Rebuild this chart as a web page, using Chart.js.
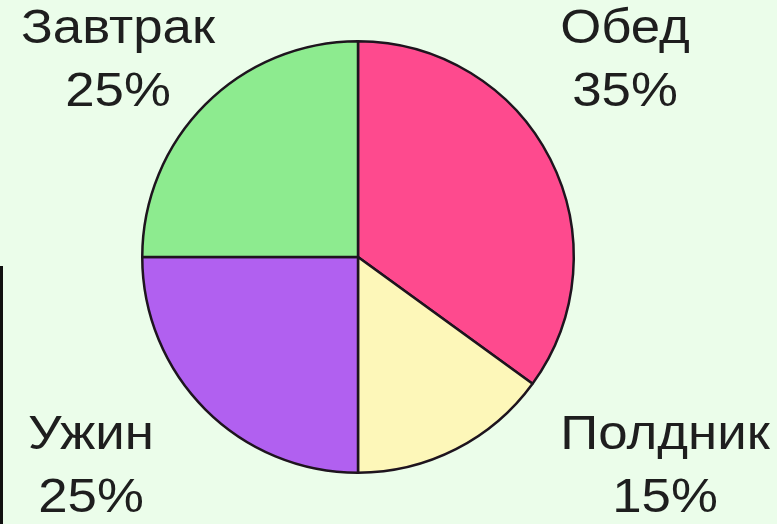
<!DOCTYPE html>
<html>
<head>
<meta charset="utf-8">
<script src="https://cdn.jsdelivr.net/npm/chart.js@4"></script>
<style>
  html, body { margin: 0; padding: 0; background: #ebfdea; }
  #wrap { position: relative; width: 777px; height: 524px; }
  #edge { position: absolute; left: 0; top: 266px; width: 3px; height: 258px; background: #111; }
</style>
</head>
<body>
<div id="wrap">
  <canvas id="myChart" width="777" height="524"></canvas>
  <div id="edge"></div>
</div>
<script>
const meals = ['Обед', 'Полдник', 'Ужин', 'Завтрак'];
const shares = [35, 15, 25, 25];
const colors = ['#fe4a8e', '#fdf7b9', '#b160f0', '#8deb8f'];

// where each caption sits (centre of the two text lines)
const captionSpots = [[625, 61], [665, 467], [91, 467], [118, 61]];

const captions = {
    id: 'captions',
    afterDraw(chart) {
        const c = chart.ctx;
        c.save();
        c.fillStyle = '#1e1e1e';
        c.font = '48px "Liberation Sans", Arial, sans-serif';
        c.textAlign = 'center';
        c.textBaseline = 'middle';
        meals.forEach((name, i) => {
            const [x, y] = captionSpots[i];
            c.save();
            c.translate(x, y);
            c.scale(1.1, 1);   // the original picture is a bit stretched sideways
            c.fillText(name, 0, -31);
            c.fillText(shares[i] + '%', 0, 32);
            c.restore();
        });
        c.restore();
    }
};

const ctx = document.getElementById('myChart');

new Chart(ctx, {
    type: 'pie',
    data: {
        labels: meals,
        datasets: [{
            data: shares,
            backgroundColor: colors,
            borderColor: '#1e141e',
            borderWidth: 2.5,
            hoverOffset: 0
        }]
    },
    options: {
        responsive: false,
        animation: false,
        layout: { padding: { left: 140, right: 201, top: 40, bottom: 50 } },
        plugins: {
            legend: { display: false },
            tooltip: { enabled: false }
        }
    },
    plugins: [captions]
});
</script>
</body>
</html>
